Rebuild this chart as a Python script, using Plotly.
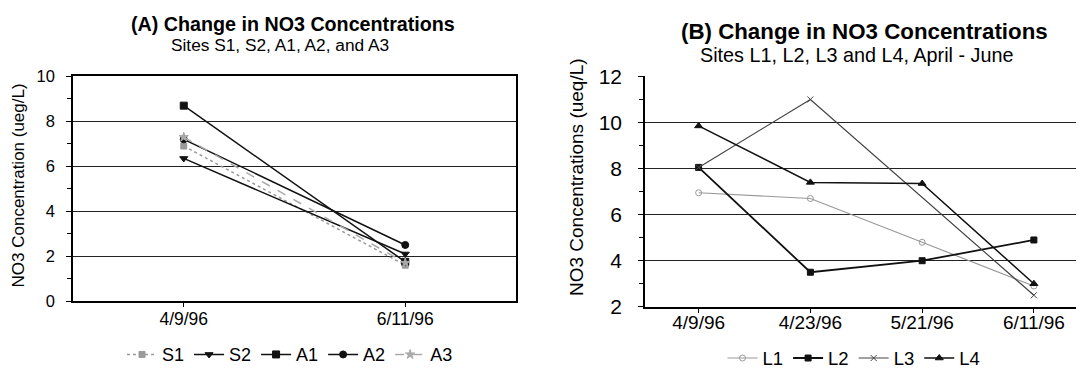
import plotly.graph_objects as go

# ---- Data (A) ----
dates_a = ["4/9/96", "6/11/96"]
S1 = [6.9, 1.6]
S2 = [6.35, 2.1]
A1 = [8.7, 1.75]
A2 = [7.2, 2.5]
A3 = [7.3, 1.7]

# ---- Data (B) ----
dates_b = ["4/9/96", "4/23/96", "5/21/96", "6/11/96"]
L1 = [6.95, 6.7, 4.8, 2.9]
L2 = [8.05, 3.5, 4.0, 4.9]
L3 = [8.05, 11.0, None, 2.5]
L4 = [9.85, 7.4, 7.35, 3.0]

FONT = "Liberation Sans, Arial, sans-serif"
W, H = 1084, 385

fig = go.Figure()

def add(x, y, name, color, width, dash, symbol, msize, xa, ya, legend):
    fig.add_trace(go.Scatter(
        x=x, y=y, name=name, mode="lines+markers",
        line=dict(color=color, width=width, dash=dash),
        marker=dict(symbol=symbol, size=msize, color=color,
                    line=dict(color=color, width=1)),
        xaxis=xa, yaxis=ya, legend=legend, connectgaps=True,
    ))

add(dates_a, S1, "S1", "#9a9a9a", 1.5, "dot", "square", 6, "x", "y", "legend")
add(dates_a, S2, "S2", "#111111", 1.5, "solid", "triangle-down", 7, "x", "y", "legend")
add(dates_a, A1, "A1", "#111111", 1.5, "solid", "square", 7, "x", "y", "legend")
add(dates_a, A2, "A2", "#111111", 1.5, "solid", "circle", 7, "x", "y", "legend")
add(dates_a, A3, "A3", "#aaaaaa", 1.5, "dash", "star", 7, "x", "y", "legend")

add(dates_b, L1, "L1", "#999999", 1.2, "solid", "circle-open", 6, "x2", "y2", "legend2")
add(dates_b, L2, "L2", "#111111", 1.8, "solid", "square", 6, "x2", "y2", "legend2")
add(dates_b, L3, "L3", "#444444", 1.2, "solid", "x-thin-open", 6, "x2", "y2", "legend2")
add(dates_b, L4, "L4", "#111111", 1.5, "solid", "triangle-up", 7, "x2", "y2", "legend2")

axis_common = dict(showline=True, linecolor="black", linewidth=1.5,
                   ticks="outside", tickcolor="black",
                   zeroline=False)

def px(xp):
    return xp / W

def py(yp):
    return 1 - yp / H

fig.update_layout(
    width=W, height=H,
    margin=dict(l=0, r=0, t=0, b=0),
    paper_bgcolor="white", plot_bgcolor="white",
    font=dict(family=FONT, color="black"),
    xaxis=dict(domain=[px(65), px(508)], anchor="y", type="category",
               range=[-0.5, 1.5], showgrid=False, mirror=True, ticklen=4,
               ticklabelstandoff=-3,
               tickfont=dict(size=17.5), **axis_common),
    yaxis=dict(domain=[py(299), py(60)], anchor="x", range=[0, 10],
               dtick=2, showgrid=True, gridcolor="#222222", gridwidth=1.3,
               mirror=True, tickfont=dict(size=16.5), ticklen=5,
               ticklabelstandoff=8,
               minor=dict(dtick=1, ticks="outside", ticklen=4, tickcolor="black", showgrid=False),
               **axis_common),
    xaxis2=dict(domain=[px(637), 1.0], anchor="y2", type="category",
                range=[-0.48, 3.52], showgrid=False, ticklen=4,
                ticklabelstandoff=-6,
                tickfont=dict(size=19), **axis_common),
    yaxis2=dict(domain=[py(305), py(60)], anchor="x2", range=[2, 12],
                dtick=2, showgrid=True, gridcolor="#222222", gridwidth=1.3,
                tickfont=dict(size=21), ticklen=5, ticklabelstandoff=12,
                minor=dict(dtick=1, ticks="outside", ticklen=4, tickcolor="black", showgrid=False),
                **axis_common),
    legend=dict(orientation="h", x=px(282), xanchor="center", y=py(356),
                yanchor="middle", font=dict(size=18), itemwidth=30,
                bgcolor="rgba(0,0,0,0)"),
    legend2=dict(orientation="h", x=px(846), xanchor="center", y=py(360),
                 yanchor="middle", font=dict(size=18.5), itemwidth=30,
                 bgcolor="rgba(0,0,0,0)"),
    annotations=[
        dict(text="<b>(A) Change in NO3 Concentrations</b>", x=px(285), y=py(4),
             xref="paper", yref="paper", showarrow=False, font=dict(size=19.7),
             xanchor="center", yanchor="middle"),
        dict(text="Sites S1, S2, A1, A2, and A3", x=px(272), y=py(27),
             xref="paper", yref="paper", showarrow=False, font=dict(size=17.3),
             xanchor="center", yanchor="middle"),
        dict(text="<b>(B) Change in NO3 Concentrations</b>", x=px(856), y=py(12),
             xref="paper", yref="paper", showarrow=False, font=dict(size=22.3),
             xanchor="center", yanchor="middle"),
        dict(text="Sites L1, L2, L3 and L4, April - June", x=px(848), y=py(37),
             xref="paper", yref="paper", showarrow=False, font=dict(size=19.8),
             xanchor="center", yanchor="middle"),
        dict(text="NO3 Concentration (ueg/L)", x=px(10), y=py(176),
             xref="paper", yref="paper", showarrow=False, font=dict(size=17),
             textangle=-90, xanchor="center", yanchor="middle"),
        dict(text="NO3 Concentrations (ueq/L)", x=px(568), y=py(167),
             xref="paper", yref="paper", showarrow=False, font=dict(size=19),
             textangle=-90, xanchor="center", yanchor="middle"),
    ],
)

fig.write_html("out.html")
